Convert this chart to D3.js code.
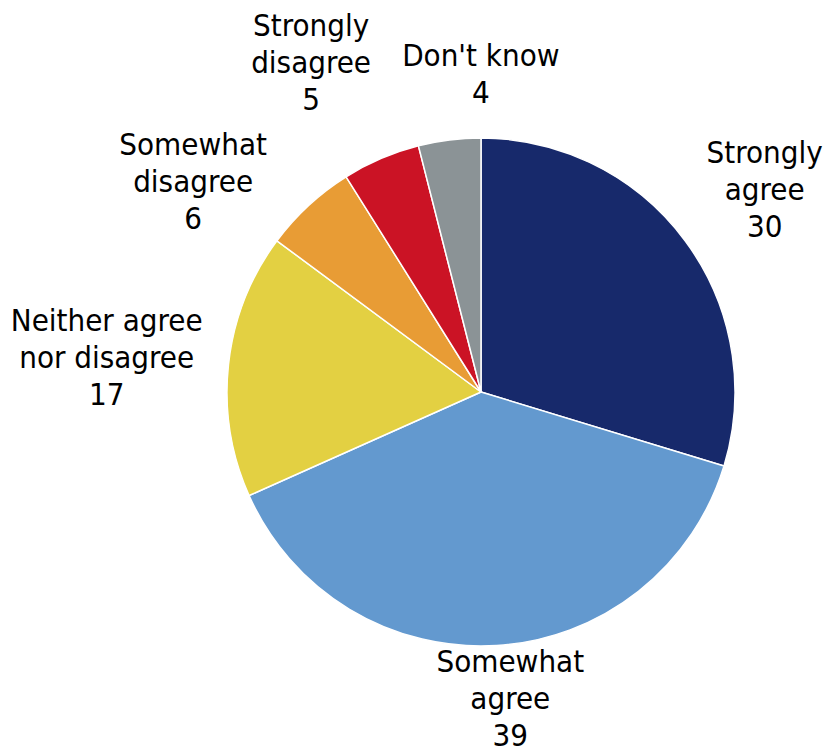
<!DOCTYPE html>
<html><head><meta charset="utf-8">
<script src="https://cdn.jsdelivr.net/npm/d3@7"></script>
<style>body{margin:0;background:#fff}svg{display:block}</style>
</head><body>
<script>
const categories = ["Strongly agree","Somewhat agree","Neither agree nor disagree","Somewhat disagree","Strongly disagree","Don't know"];
const values = [30,39,17,6,5,4];
const labelLines = [["Strongly","agree"],["Somewhat","agree"],["Neither agree","nor disagree"],["Somewhat","disagree"],["Strongly","disagree"],["Don't know"]];
const colors = ["#17296b","#6399cf","#e3d042","#e89c35","#cb1325","#8b9396"];

const W=825,H=755, cx=481, cy=392, R=254;
const svg=d3.select("body").append("svg").attr("width",W).attr("height",H);
const data=categories.map((c,i)=>({c,v:values[i],lines:labelLines[i],col:colors[i]}));
const pie=d3.pie().value(d=>d.v).sort(null).startAngle(0).endAngle(2*Math.PI);
const arcs=pie(data);
const arc=d3.arc().innerRadius(0).outerRadius(R);
const g=svg.append("g").attr("transform",`translate(${cx},${cy})`);
g.selectAll("path").data(arcs).join("path").attr("d",arc).attr("fill",d=>d.data.col)
 .attr("stroke","#fff").attr("stroke-width",1.5).attr("stroke-linejoin","round");

// label placement: radius factor and angle nudge (degrees) relative to slice middle
const labelRadius=[1.374,1.212,1.48,1.405,1.46,1.252];
const labelNudge=[0.9,-1.9,-0.9,-11,-4.1,7.1];
const lineH=37;
arcs.forEach((a,i)=>{
  const ang=(a.startAngle+a.endAngle)/2+labelNudge[i]*Math.PI/180;
  const r=R*labelRadius[i];
  const x=cx+r*Math.sin(ang), y=cy-r*Math.cos(ang);
  const lines=a.data.lines.concat([String(a.data.v)]);
  const n=lines.length;
  const t=svg.append("text").attr("text-anchor","middle")
    .attr("font-family","'DejaVu Sans Condensed','DejaVu Sans',sans-serif").attr("font-size",31).attr("fill","#000");
  lines.forEach((l,k)=>{
    t.append("tspan").attr("x",x).attr("y",y+(k-(n-1)/2)*lineH+11).text(l);
  });
});
</script>
</body></html>
